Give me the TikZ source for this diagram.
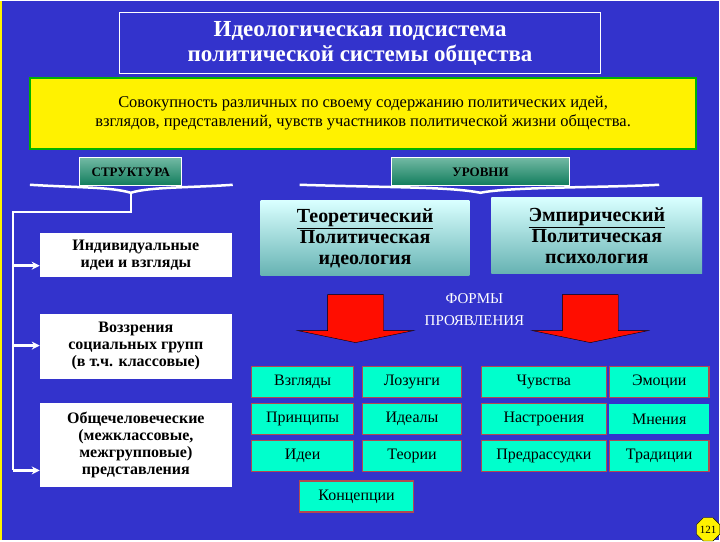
\documentclass[tikz,border=0pt]{standalone}
\usepackage{fontspec}
\setmainfont{Liberation Serif}
\usetikzlibrary{shapes.geometric,arrows.meta}
\definecolor{bg}{HTML}{3333CC}
\definecolor{aq}{HTML}{00FFCC}
\definecolor{tab}{HTML}{138A66}
\definecolor{bord}{HTML}{B04A50}
\begin{document}
\begin{tikzpicture}[x=1pt,y=-1pt,
 wbox/.style={draw=none,fill=white,align=center,font=\bfseries\fontsize{16}{17}\selectfont,inner sep=0pt},
 lvl/.style={top color=cyan!15,bottom color=teal!60,draw=none,align=center,font=\bfseries\fontsize{20}{21}\selectfont,inner sep=0pt},
 cell/.style={fill=aq,draw=bord,line width=1.5pt,font=\fontsize{16}{17}\selectfont,inner sep=0pt},
 tabs/.style={top color=tab!60,bottom color=tab!90!black,draw=white,line width=1pt,font=\bfseries\fontsize{13}{14}\selectfont,inner sep=0pt},
 wl/.style={white,line width=2.5pt},
 arr/.style={wl,-{Stealth[length=8pt,width=8pt]}}]
\fill[bg] (0,0) rectangle (720,540);
\draw[yellow,line width=2pt] (1,0)--(1,540);
\node[draw=white,line width=1pt,minimum width=481,minimum height=61,text=white,align=center,font=\bfseries\fontsize{23}{25}\selectfont,inner sep=0pt] (title) at (360.5,42.5) {Идеологическая подсистема\\политической системы общества};
\node[fill=yellow,draw=green!70!black,line width=2.5pt,minimum width=667,minimum height=71,align=center,font=\fontsize{16.5}{19}\selectfont,inner sep=0pt] (def) at (363.5,112.5) {Совокупность различных по своему содержанию политических идей,\\взглядов, представлений, чувств участников политической жизни общества.};
% brackets
\draw[white,line width=2.5pt] (30,184) .. controls (80,187) and (110,186) .. (131,192) .. controls (150,186) and (190,187) .. (233,184);
\draw[white,line width=2.5pt] (300,184) .. controls (400,187) and (450,186) .. (481,192) .. controls (510,186) and (600,187) .. (660,184);
\node[tabs,minimum width=102,minimum height=28] (st) at (131,171) {СТРУКТУРА};
\node[tabs,minimum width=178,minimum height=28] (ur) at (481,171) {УРОВНИ};
% left boxes
\node[wbox,minimum width=192,minimum height=44] (b1) at (136,254) {Индивидуальные\\идеи и взгляды};
\node[wbox,minimum width=192,minimum height=65] (b2) at (136,345.5) {Воззрения\\социальных групп\\(в т.ч. классовые)};
\node[wbox,minimum width=192,minimum height=85] (b3) at (136,444.5) {Общечеловеческие\\(межклассовые,\\межгрупповые)\\представления};
\coordinate (c0) at (131,192);
\coordinate (c1) at (131,211);
\coordinate (c2) at (13,211);
\coordinate (c3) at (13,470);
\draw[wl] (c0)--(c1)--(c2)--(c3);
\draw[arr] (13,265)--(b1.west|-0,265);
\draw[arr] (13,345)--(b2.west|-0,345);
\draw[arr] (c3)--(b3.west|-0,470);
% levels
\node[lvl,minimum width=209,minimum height=75] (t) at (365.5,237.5) {\underline{Теоретический}\\Политическая\\идеология};
\node[lvl,minimum width=211,minimum height=76] (e) at (597.5,235) {\underline{Эмпирический}\\Политическая\\психология};
% arrows
\foreach \cx in {356,591}{
 \filldraw[fill=red!90!orange,draw=black] (\cx-28,294)--(\cx+28,294)--(\cx+28,330)--(\cx+58,330)--(\cx,342)--(\cx-58,330)--(\cx-28,330)--cycle;}
\node[text=white,align=center,font=\fontsize{15}{22}\selectfont,inner sep=0pt] (fp) at (475,309) {ФОРМЫ\\ПРОЯВЛЕНИЯ};
% cells
\foreach \n/\t/\x/\w/\y in {a1/Взгляды/303/102/381.5, a2/Лозунги/412.5/99/381.5, a3/Чувства/544.5/125/381.5, a4/Эмоции/660/100/381.5,
 b1c/Принципы/303/102/418.5, b2c/Идеалы/412.5/99/418.5, b3c/Настроения/544.5/125/418.5,
 c1c/Идеи/303/102/455.5, c2c/Теории/412.5/99/455.5, c3c/Предрассудки/544.5/125/455.5, c4c/Традиции/660/100/455.5,
 kk/Концепции/357/114/496}
 {\node[cell,minimum width=\w,minimum height=31] (\n) at (\x,\y) {\t};}
\node[fill=aq,draw=none,minimum width=100,minimum height=31,font=\fontsize{16}{17}\selectfont,inner sep=0pt] (b4c) at (660,418.5) {Мнения};
\node[regular polygon,regular polygon sides=8,fill=yellow,draw=black,inner sep=0pt,minimum size=22,font=\fontsize{11}{11}\selectfont] (pg) at (709,529) {121};
\end{tikzpicture}
\end{document}
